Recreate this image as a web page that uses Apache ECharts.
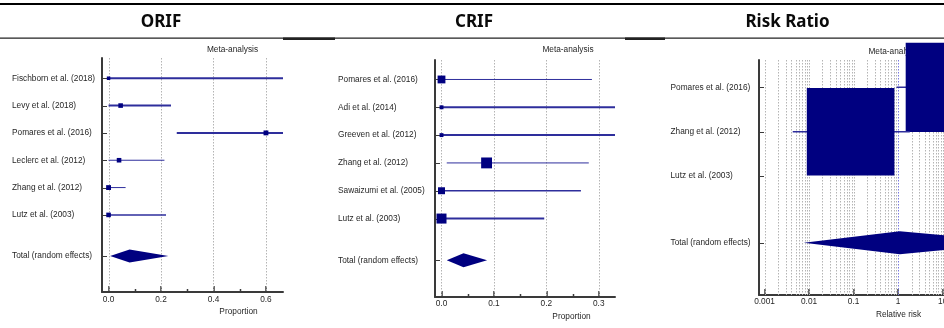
<!DOCTYPE html>
<html><head><meta charset="utf-8">
<script src="https://cdn.jsdelivr.net/npm/echarts@6/dist/echarts.min.js"></script>
<style>html,body{margin:0;padding:0;background:#fff}#c{width:944px;height:328px}</style>
</head><body><div id="c"></div>
<script>
// ---------- DATA ----------
// ORIF (proportion)
const orifStudies = ['Fischborn et al. (2018)','Levy et al. (2018)','Pomares et al. (2016)','Leclerc et al. (2012)','Zhang et al. (2012)','Lutz et al. (2003)'];
const orifEst  = [0.0, 0.046, 0.60, 0.04, 0.0, 0.0];
const orifLow  = [0.0, 0.0, 0.26, 0.0, 0.0, 0.0];
const orifHigh = [0.70, 0.238, 0.88, 0.213, 0.065, 0.219];
const orifWeight = [13, 17, 18, 17, 18, 17];
const orifTotal = [0.08, 0.006, 0.228];           // est, low, high
const orifTicks = [0, 0.2, 0.4, 0.6];
const orifMinorTicks = [0.1, 0.3, 0.5];

// CRIF (proportion)
const crifStudies = ['Pomares et al. (2016)','Adi et al. (2014)','Greeven et al. (2012)','Zhang et al. (2012)','Sawaizumi et al. (2005)','Lutz et al. (2003)'];
const crifEst  = [0.0, 0.0, 0.0, 0.086, 0.0, 0.0];
const crifLow  = [0.0, 0.0, 0.0, 0.01, 0.0, 0.0];
const crifHigh = [0.287, 0.45, 0.45, 0.281, 0.266, 0.196];
const crifWeight = [18, 9, 9, 25, 16, 23];
const crifTotal = [0.042, 0.01, 0.087];
const crifTicks = [0, 0.1, 0.2, 0.3];
const crifMinorTicks = [0.05, 0.15, 0.25];

// Risk ratio (relative risk)
const rrStudies = ['Pomares et al. (2016)','Zhang et al. (2012)','Lutz et al. (2003)'];
const rrEst  = [14.9, 0.0857, null];
const rrLow  = [0.92, 0.0043, null];
const rrHigh = [800, 1.83, null];
const rrWeight = [50.5, 49.5, 0];
const rrTotal = [1.09, 0.0076, 600];
const rrTicks = [0.001, 0.01, 0.1, 1, 10, 100];

const totalLabel = 'Total (random effects)';

// ---------- STYLE ----------
const orifLineW = [2, 2, 2, 1, 1, 1.5];
const crifLineW = [1, 2, 2, 1, 1.5, 2];
const rrLineW = [1.5, 1.5, 1.5];
const FONT = "'Liberation Sans', Arial, sans-serif";
const FS = 8.3;
const TXT = '#262626';
const CI = '#2e2e9c';
const NAVY = '#000080';
const GRIDC = '#b4b4b4';
const AXC = '#3a3a3a';

const chart = echarts.init(document.getElementById('c'), null, {renderer: 'canvas'});

const grids = [], xAxes = [], yAxes = [], series = [];

function addPanel(p) {
  const gi = grids.length;
  grids.push({left: p.grid[0], top: p.grid[1], width: p.grid[2], height: p.grid[3], outerBoundsMode: 'none', containLabel: false});
  const n = p.studies.length;
  const rows = p.studies.map((_, i) => i + 1).concat([n + 1.5]);
  const names = p.studies.concat([totalLabel]);
  const tx = p.log ? (v => Math.log10(v)) : (v => v);
  xAxes.push({
    gridIndex: gi, type: 'value', min: p.xRange[0], max: p.xRange[1],
    axisLine: {show: true, onZero: false, lineStyle: {color: AXC, width: 2}},
    axisTick: {show: true, inside: true, length: 6, customValues: p.ticks.map(tx), lineStyle: {color: AXC, width: 1.5}},
    axisLabel: {show: true, customValues: p.ticks.map(tx), margin: p.labelMargin, fontSize: FS, fontFamily: FONT, color: TXT,
      formatter: v => { const t = p.ticks.find(t => Math.abs(tx(t) - v) < 1e-6); return t === undefined ? '' : p.fmt(t); }},
    splitLine: {show: false}
  });
  yAxes.push({
    gridIndex: gi, type: 'value', inverse: true, min: p.yRange[0], max: p.yRange[1],
    axisLine: {show: true, onZero: false, lineStyle: {color: AXC, width: 2}},
    axisTick: {show: false},
    axisLabel: {show: true, customValues: rows, align: 'left', margin: p.yLabelMargin, fontSize: FS, fontFamily: FONT, color: TXT,
      formatter: v => { const i = rows.findIndex(r => Math.abs(r - v) < 1e-6); return i < 0 ? '' : names[i]; }},
    splitLine: {show: false}
  });
  // grid lines
  series.push({
    type: 'custom', xAxisIndex: gi, yAxisIndex: gi, z: 1, silent: true,
    data: p.gridVals.map(v => [tx(v), 0, v === p.refVal ? 1 : 0]),
    renderItem: (params, api) => {
      const cs = params.coordSys;
      const x = Math.round(api.coord([api.value(0), 0])[0]) + 0.5;
      const ref = api.value(2) === 1;
      return {type: 'line', shape: {x1: x, y1: cs.y, x2: x, y2: cs.y + cs.height},
        style: {stroke: ref ? '#7a7ae0' : GRIDC, lineWidth: 1, lineDash: [1.5, 1.5]}};
    }
  });
  // row ticks (inside, on the left axis)
  series.push({
    type: 'custom', xAxisIndex: gi, yAxisIndex: gi, z: 3, silent: true,
    data: rows.map(r => [0, r]),
    renderItem: (params, api) => {
      const cs = params.coordSys;
      const y = Math.round(api.coord([0, api.value(1)])[1]) + 0.5;
      return {type: 'line', shape: {x1: cs.x, y1: y, x2: cs.x + 5, y2: y}, style: {stroke: AXC, lineWidth: 1}};
    }
  });
  // minor ticks
  if (p.minor && p.minor.length) {
    series.push({
      type: 'custom', xAxisIndex: gi, yAxisIndex: gi, z: 3, silent: true,
      data: p.minor.map(v => [tx(v), 0]),
      renderItem: (params, api) => {
        const cs = params.coordSys;
        const x = Math.round(api.coord([api.value(0), 0])[0]) + 0.5;
        const yb = cs.y + cs.height;
        return {type: 'line', shape: {x1: x, y1: yb, x2: x, y2: yb - 3}, style: {stroke: AXC, lineWidth: 1.5}};
      }
    });
  }
  // studies
  const sdata = [];
  p.studies.forEach((s, i) => {
    if (p.est[i] == null) return;
    sdata.push([tx(p.est[i]), tx(p.low[i]), tx(p.high[i]), rows[i], p.weight[i], p.lineW[i]]);
  });
  series.push({
    type: 'custom', xAxisIndex: gi, yAxisIndex: gi, z: 5, silent: true,
    data: sdata,
    renderItem: (params, api) => {
      const cs = params.coordSys;
      const y = api.coord([0, api.value(3)])[1];
      const xl = Math.max(cs.x, api.coord([api.value(1), 0])[0]);
      const xh = Math.min(cs.x + cs.width, api.coord([api.value(2), 0])[0]);
      const xe = api.coord([api.value(0), 0])[0];
      const s = api.value(4) * p.sizeK;
      const lw = api.value(5);
      return {type: 'group', children: [
        {type: 'line', shape: {x1: xl, y1: y, x2: xh, y2: y}, style: {stroke: CI, lineWidth: lw}},
        {type: 'rect', shape: {x: xe - s / 2, y: y - s / 2, width: s, height: s}, style: {fill: NAVY}}
      ]};
    }
  });
  // total diamond
  series.push({
    type: 'custom', xAxisIndex: gi, yAxisIndex: gi, z: 5, silent: true,
    data: [[tx(p.total[0]), tx(p.total[1]), tx(p.total[2]), n + 1.5]],
    renderItem: (params, api) => {
      const y = api.coord([0, api.value(3)])[1];
      const xe = api.coord([api.value(0), 0])[0];
      const xl = api.coord([api.value(1), 0])[0];
      const xh = api.coord([api.value(2), 0])[0];
      const h = p.diamondH;
      return {type: 'polygon', shape: {points: [[xl, y], [xe, y - h], [xh, y], [xe, y + h]]}, style: {fill: NAVY}};
    }
  });
}

addPanel({studies: orifStudies, est: orifEst, low: orifLow, high: orifHigh, weight: orifWeight, lineW: orifLineW,
  total: orifTotal, ticks: orifTicks, minor: orifMinorTicks, gridVals: orifTicks, refVal: null,
  grid: [102, 58, 181, 234], xRange: [-0.025, 0.665], yRange: [0.26, 8.82], labelMargin: 4, yLabelMargin: 90,
  fmt: t => t.toFixed(1), sizeK: 0.27, diamondH: 6.5, log: false});

addPanel({studies: crifStudies, est: crifEst, low: crifLow, high: crifHigh, weight: crifWeight, lineW: crifLineW,
  total: crifTotal, ticks: crifTicks, minor: crifMinorTicks, gridVals: crifTicks, refVal: null,
  grid: [435, 60, 180, 237], xRange: [-0.0124, 0.331], yRange: [0.3, 8.82], labelMargin: 3, yLabelMargin: 97,
  fmt: t => t.toFixed(1), sizeK: 0.435, diamondH: 7, log: false});

const rrGrid = [];
for (let d = -3; d <= 3; d++) for (let k = 1; k <= 9; k++) rrGrid.push(+(k * Math.pow(10, d)).toPrecision(3));
addPanel({studies: rrStudies, est: rrEst, low: rrLow, high: rrHigh, weight: rrWeight, lineW: rrLineW,
  total: rrTotal, ticks: rrTicks, minor: [], gridVals: rrGrid, refVal: 1,
  grid: [759, 60, 291, 235], xRange: [-3.124, 3.41], yRange: [0.384, 5.68], labelMargin: 3, yLabelMargin: 88.5,
  fmt: t => String(t), sizeK: 1.77, diamondH: 11.5, log: true});

const txt = (x, y, s, size, weight, color, family) => ({type: 'text', x: x, y: y, z: 0,
  style: {text: s, fontSize: size, fontWeight: weight || 'normal', fill: color || TXT, fontFamily: family || FONT, align: 'center', verticalAlign: 'middle'}});

const graphic = [
  {type: 'rect', shape: {x: 0, y: 3, width: 944, height: 2}, style: {fill: '#000'}, z: 0},
  {type: 'rect', shape: {x: 0, y: 37.5, width: 944, height: 1.2}, style: {fill: '#222'}, z: 0},
  {type: 'rect', shape: {x: 283, y: 37.5, width: 52, height: 2.5}, style: {fill: '#222'}, z: 0},
  {type: 'rect', shape: {x: 625, y: 37.5, width: 40, height: 2.5}, style: {fill: '#222'}, z: 0},
  txt(161, 22, 'ORIF', 17, 'bold', '#0a0a0a', "'Noto Sans', sans-serif"),
  txt(474, 22, 'CRIF', 17, 'bold', '#0a0a0a', "'Noto Sans', sans-serif"),
  txt(787.5, 22, 'Risk Ratio', 17, 'bold', '#0a0a0a', "'Noto Sans', sans-serif"),
  txt(232.5, 49.5, 'Meta-analysis', FS),
  txt(568, 49.5, 'Meta-analysis', FS),
  txt(894, 51.5, 'Meta-analysis', FS),
  txt(238.5, 311.5, 'Proportion', FS),
  txt(571.5, 316.5, 'Proportion', FS),
  txt(898.5, 314.5, 'Relative risk', FS)
];

chart.setOption({
  animation: false,
  backgroundColor: '#fff',
  grid: grids, xAxis: xAxes, yAxis: yAxes, series: series,
  graphic: graphic
});
</script></body></html>
